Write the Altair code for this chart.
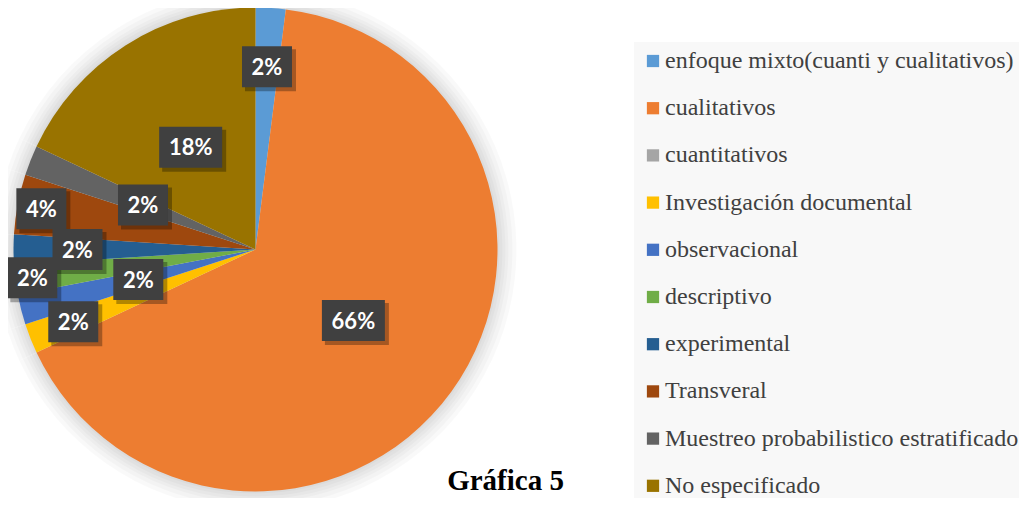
import altair as alt
import pandas as pd

categories = [
    "enfoque mixto(cuanti y cualitativos)",
    "cualitativos",
    "cuantitativos",
    "Investigación documental",
    "observacional",
    "descriptivo",
    "experimental",
    "Transveral",
    "Muestreo probabilistico estratificado",
    "No especificado",
]
percent = [2, 66, 0, 2, 2, 2, 2, 4, 2, 18]
colors = ["#5B9BD5", "#ED7D31", "#A5A5A5", "#FFC000", "#4472C4",
          "#70AD47", "#255E91", "#9E480E", "#636363", "#997300"]
# distance of each data label from the pie centre (layout only)
label_radius = [183, 121, 0, 196, 121, 225, 178, 218, 121, 121]

W, H = 455, 443
R = 242

df = pd.DataFrame({
    "cat": categories,
    "v": percent,
    "idx": list(range(len(categories))),
    "lr": label_radius,
})

base = alt.Chart(df)
theta = alt.Theta("v:Q", stack=True)
order = alt.Order("idx:Q", sort="ascending")

glows = [
    base.mark_arc(radius=r, color="black", opacity=0.022).encode(theta=theta, order=order)
    for r in [244, 247, 250, 253, 257, 261]
]

pie = base.mark_arc(radius=R).encode(
    theta=theta,
    order=order,
    color=alt.Color(
        "cat:N",
        sort=categories,
        scale=alt.Scale(domain=categories, range=colors),
        legend=alt.Legend(
            title=None, orient="none", legendX=606, legendY=14,
            symbolType="square", symbolSize=150, symbolStrokeWidth=0,
            labelFont="Liberation Serif", labelFontSize=24, labelColor="#404040",
            rowPadding=23.2, fillColor="#f8f8f8", padding=7, labelLimit=0,
            labelOffset=0,
        ),
    ),
)

lab = (
    base.transform_joinaggregate(total="sum(v)")
    .transform_window(cum="sum(v)", sort=[alt.SortField("idx")], frame=[None, 0])
    .transform_filter("datum.v > 0")
    .transform_calculate(mid="(datum.cum - datum.v/2)/datum.total*2*PI")
    .transform_calculate(lbl="format(datum.v/datum.total, '.0%')")
    .transform_calculate(px=f"{W/2} + datum.lr*sin(datum.mid)")
    .transform_calculate(py=f"{H/2} - datum.lr*cos(datum.mid)")
    .transform_calculate(bw="24 + 13*length(datum.lbl)")
    .transform_calculate(x1="datum.px - datum.bw/2")
    .transform_calculate(x2="datum.px + datum.bw/2")
    .transform_calculate(y1="datum.py - 20.5")
    .transform_calculate(y2="datum.py + 20.5")
    .transform_calculate(sx1="datum.x1 + 3", sx2="datum.x2 + 4",
                         sy1="datum.y1 + 3", sy2="datum.y2 + 4")
)

shadow = lab.mark_rect(color="black", opacity=0.3).encode(
    x=alt.X("sx1:Q", scale=None, axis=None), x2="sx2:Q",
    y=alt.Y("sy1:Q", scale=None, axis=None), y2="sy2:Q",
)
boxes = lab.mark_rect(color="#404040").encode(
    x=alt.X("x1:Q", scale=None, axis=None), x2="x2:Q",
    y=alt.Y("y1:Q", scale=None, axis=None), y2="y2:Q",
)
texts = lab.mark_text(
    font="Lato", fontSize=22, fontWeight="bold", color="white",
    align="center", baseline="middle", dy=1,
).encode(
    x=alt.X("px:Q", scale=None, axis=None),
    y=alt.Y("py:Q", scale=None, axis=None),
    text="lbl:N",
)

title = alt.Chart(pd.DataFrame({"t": ["Gráfica 5"]})).mark_text(
    font="Liberation Serif", fontSize=29, fontWeight="bold", color="black",
    align="center", baseline="alphabetic",
).encode(text="t:N", x=alt.value(477.5), y=alt.value(462))

chart = (
    alt.layer(*glows, pie, shadow, boxes, texts, title)
    .properties(
        width=W, height=H,
        padding={"left": 20, "top": 20, "right": 536, "bottom": 27},
        autosize=alt.AutoSizeParams(type="none"),
        background="white",
    )
    .configure_view(stroke=None)
)

chart.save("out.html", embed_options={"renderer": "svg", "actions": False})
